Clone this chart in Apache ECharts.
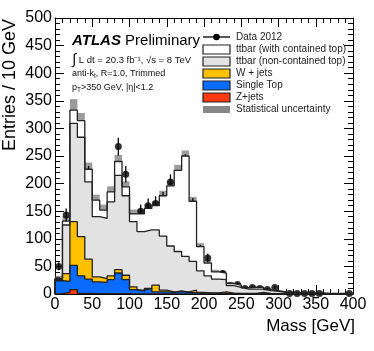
<!DOCTYPE html>
<html>
<head>
<meta charset="utf-8">
<script src="https://cdn.jsdelivr.net/npm/echarts@6/dist/echarts.min.js"></script>
<style>
html, body { margin: 0; padding: 0; background: #fff; }
#chart { width: 374px; height: 351px; }
</style>
</head>
<body>
<div id="chart"></div>
<script>
// 40 bins of 10 GeV, 0-400 GeV
const binWidth = 10;

const dataCounts = [50, 143, 294, 241, 217, 155, 129, 155, 267, 217,
    134, 150, 160, 164, 172, 203, 206, 238, 161, 80,
    65, 25, 37, 15, 17, 10, 12, 10, 8, 12,
    0, 1, 1, 1, 1, 1, 0, 0, 0, 1];
const dataErrors = [7, 12, 17, 16, 15, 12, 11, 12, 16, 15,
    12, 12, 13, 13, 13, 14, 14, 15, 13, 9,
    8, 5, 6, 4, 4, 3, 3, 3, 3, 3,
    0, 1, 1, 1, 1, 1, 0, 0, 0, 1];

const zJets = [0.5, 3, 8, 1, 1, 0.5, 0.5, 0.5, 0.5, 0.5,
    0.3, 0.3, 0.3, 0.3, 0.2, 0.2, 0.2, 0.2, 0.2, 0.1,
    0.1, 0.1, 0.1, 0, 0, 0, 0, 0, 0, 0,
    0, 0, 0, 0, 0, 0, 0, 0, 0, 0];
const singleTop = [23.5, 20, 44, 32, 26, 21.5, 20.5, 25.5, 37.5, 25.5,
    7.7, 4.7, 9.7, 3.7, 3.8, 2.8, 4.8, 2.8, 1.8, 1.4,
    0.9, 0.9, 0.9, 1, 0.5, 0.5, 0.5, 0.5, 0.3, 0.3,
    0.2, 0.2, 0.1, 0.1, 0.1, 0.1, 0, 0, 0, 0];
const wJets = [2, 14, 79, 71, 36, 9, 7, 7, 6, 8,
    5, 2, 0, 12, 3, 1, 0, 1, 5, 1.5,
    1, 1, 3, 0.5, 0.5, 0.5, 0.5, 2.5, 0.7, 0.2,
    0.1, 0.1, 0.1, 0.1, 0, 0, 0.1, 0.1, 0, 0];
const ttNonContained = [1, 88, 178, 180, 140, 109, 109, 134, 171, 144,
    118, 106, 106, 100, 98, 83, 72, 64, 52, 39,
    31, 25, 22, 13.5, 11, 8, 8, 6, 5, 4.5,
    2.7, 1.7, 1.3, 1.3, 0.9, 0.9, 0.7, 0.7, 0.7, 0.7];
const ttContained = [1, 7, 24, 30, 23, 30, 15, 18, 25, 16,
    14, 32, 39, 44, 73, 109, 147, 182, 109, 44,
    23, 13, 12, 4, 4, 2, 3, 3, 2, 1,
    1, 1, 0.5, 0.5, 0.5, 0.5, 0.2, 0.2, 0.3, 0.3];
const statUnc = [5, 9, 20, 14, 12, 10, 10, 10, 12, 10,
    8, 8, 8, 8, 9, 9, 10, 10, 8, 6,
    5, 4, 4, 3, 3, 2, 2, 2, 2, 1.5,
    1, 1, 1, 1, 1, 1, 1, 1, 1, 1];

const colors = {
    contained: '#ffffff',
    nonContained: '#e2e2e2',
    wJets: '#ffc000',
    singleTop: '#0a6cff',
    zJets: '#ff3a10',
    stat: 'rgba(90,90,90,0.6)',
    line: '#222222'
};

// cumulative stack, bottom to top
function addArrays(a, b) {
    return a.map((v, i) => v + b[i]);
}
const cumZ = zJets.slice();
const cumST = addArrays(cumZ, singleTop);
const cumW = addArrays(cumST, wJets);
const cumNC = addArrays(cumW, ttNonContained);
const cumTotal = addArrays(cumNC, ttContained);

function stepPoints(values) {
    const pts = [[0, 0]];
    values.forEach((v, i) => {
        pts.push([i * binWidth, v]);
        pts.push([(i + 1) * binWidth, v]);
    });
    pts.push([values.length * binWidth, 0]);
    return pts;
}

function stackSeries(name, values, fill) {
    return {
        name: name,
        type: 'line',
        data: stepPoints(values),
        showSymbol: false,
        silent: true,
        lineStyle: { color: colors.line, width: 1.3 },
        areaStyle: { color: fill, opacity: 1 }
    };
}

const bandData = cumTotal.map((v, i) => [i * binWidth, (i + 1) * binWidth, Math.max(0, v - statUnc[i]), v + statUnc[i]]);
const pointData = [];
const errData = [];
dataCounts.forEach((v, i) => {
    if (v <= 0) return;
    const x = (i + 0.5) * binWidth;
    pointData.push([x, v]);
    errData.push([x, v - dataErrors[i], v + dataErrors[i]]);
});

const font = 'Liberation Sans, Arial, Helvetica, sans-serif';

const chart = echarts.init(document.getElementById('chart'));

const legendItems = [
    { label: 'ttbar (with contained top)', fill: colors.contained },
    { label: 'ttbar (non-contained top)', fill: colors.nonContained },
    { label: 'W + jets', fill: colors.wJets },
    { label: 'Single Top', fill: colors.singleTop },
    { label: 'Z+jets', fill: colors.zJets }
];
const legendX = 203;
const legendTextX = 236;
const legendRows = [37, 49.5, 61.5, 73.5, 85.5, 97.5, 109.5];

const graphics = [];
graphics.push({ type: 'line', shape: { x1: legendX, y1: legendRows[0], x2: legendX + 27, y2: legendRows[0] }, style: { stroke: '#000', lineWidth: 1.3 } });
graphics.push({ type: 'circle', shape: { cx: legendX + 13.5, cy: legendRows[0], r: 3.3 }, style: { fill: '#000' } });
graphics.push({ type: 'text', x: legendTextX, y: legendRows[0], style: { text: 'Data 2012', font: '10px ' + font, fill: '#222', verticalAlign: 'middle' } });
legendItems.forEach((item, k) => {
    const cy = legendRows[k + 1];
    graphics.push({ type: 'rect', shape: { x: legendX, y: cy - 4.5, width: 27, height: 9 }, style: { fill: item.fill, stroke: colors.line, lineWidth: 1.2 } });
    graphics.push({ type: 'text', x: legendTextX, y: cy, style: { text: item.label, font: '10px ' + font, fill: '#222', verticalAlign: 'middle' } });
});
graphics.push({ type: 'rect', shape: { x: legendX, y: legendRows[6] - 3.5, width: 27, height: 7 }, style: { fill: '#888' } });
graphics.push({ type: 'text', x: legendTextX, y: legendRows[6], style: { text: 'Statistical uncertainty', font: '10px ' + font, fill: '#222', verticalAlign: 'middle' } });

// ATLAS labels
graphics.push({
    type: 'text', x: 72, y: 41,
    style: {
        text: '{b|ATLAS} Preliminary',
        font: '15px ' + font, fill: '#000', verticalAlign: 'middle',
        rich: { b: { font: 'italic bold 15px ' + font, fill: '#000' } }
    }
});
graphics.push({
    type: 'text', x: 72, y: 60,
    style: {
        text: '{i|∫} L dt = 20.3 fb⁻¹, √s = 8 TeV',
        font: '9.5px ' + font, fill: '#111', verticalAlign: 'middle',
        rich: { i: { font: '15px ' + font, fill: '#111' } }
    }
});
graphics.push({
    type: 'text', x: 72, y: 74,
    style: {
        text: 'anti-k{s|t}, R=1.0, Trimmed',
        font: '9px ' + font, fill: '#111', verticalAlign: 'middle',
        rich: { s: { font: '6.5px ' + font, fill: '#111', verticalAlign: 'bottom', padding: [4, 0, 0, 0] } }
    }
});
graphics.push({
    type: 'text', x: 72, y: 88,
    style: {
        text: 'p{s|T}>350 GeV, |η|<1.2',
        font: '9px ' + font, fill: '#111', verticalAlign: 'middle',
        rich: { s: { font: '6.5px ' + font, fill: '#111', verticalAlign: 'bottom', padding: [4, 0, 0, 0] } }
    }
});

// axis titles
graphics.push({ type: 'text', x: 10, y: 19, rotation: Math.PI / 2, style: { text: 'Entries / 10 GeV', font: '18px ' + font, fill: '#000', align: 'right', verticalAlign: 'middle' } });
graphics.push({ type: 'text', x: 355, y: 326, style: { text: 'Mass [GeV]', font: '17px ' + font, fill: '#000', align: 'right', verticalAlign: 'middle' } });

const tickCommon = {
    axisLine: { show: true, onZero: false, lineStyle: { color: '#000', width: 1 } },
    axisTick: { show: true, inside: true, length: 9, lineStyle: { color: '#000', width: 1 } },
    minorTick: { show: true, splitNumber: 5, length: 5, lineStyle: { color: '#000', width: 1 } },
    splitLine: { show: false }
};

chart.setOption({
    animation: false,
    backgroundColor: '#fff',
    grid: { left: 55, right: 21, top: 18, bottom: 57 },
    xAxis: [
        Object.assign({
            type: 'value', min: 0, max: 400, interval: 50, position: 'bottom',
            axisLabel: { color: '#000', fontSize: 16, fontFamily: font, margin: 3 }
        }, tickCommon),
        Object.assign({
            type: 'value', min: 0, max: 400, interval: 50, position: 'top',
            axisLabel: { show: false }
        }, tickCommon)
    ],
    yAxis: [
        Object.assign({
            type: 'value', min: 0, max: 500, interval: 50, position: 'left',
            axisLabel: { color: '#000', fontSize: 16, fontFamily: font, margin: 3 }
        }, tickCommon),
        Object.assign({
            type: 'value', min: 0, max: 500, interval: 50, position: 'right',
            axisLabel: { show: false }
        }, tickCommon)
    ],
    graphic: graphics,
    series: [
        stackSeries('ttbar (with contained top)', cumTotal, colors.contained),
        stackSeries('ttbar (non-contained top)', cumNC, colors.nonContained),
        stackSeries('W + jets', cumW, colors.wJets),
        stackSeries('Single Top', cumST, colors.singleTop),
        stackSeries('Z+jets', cumZ, colors.zJets),
        {
            name: 'Statistical uncertainty',
            type: 'custom',
            silent: true,
            data: bandData,
            renderItem: (params, api) => {
                const p0 = api.coord([api.value(0), api.value(3)]);
                const p1 = api.coord([api.value(1), api.value(2)]);
                return {
                    type: 'rect',
                    shape: { x: p0[0], y: p0[1], width: p1[0] - p0[0], height: p1[1] - p0[1] },
                    style: { fill: colors.stat }
                };
            }
        },
        {
            name: 'Data errors',
            type: 'custom',
            silent: true,
            data: errData,
            renderItem: (params, api) => {
                const lo = api.coord([api.value(0), api.value(1)]);
                const hi = api.coord([api.value(0), api.value(2)]);
                return {
                    type: 'line',
                    shape: { x1: lo[0], y1: lo[1], x2: hi[0], y2: hi[1] },
                    style: { stroke: '#000', lineWidth: 1.3 }
                };
            }
        },
        {
            name: 'Data 2012',
            type: 'scatter',
            silent: true,
            data: pointData,
            symbolSize: 7,
            itemStyle: { color: '#000' }
        }
    ]
});
</script>
</body>
</html>
